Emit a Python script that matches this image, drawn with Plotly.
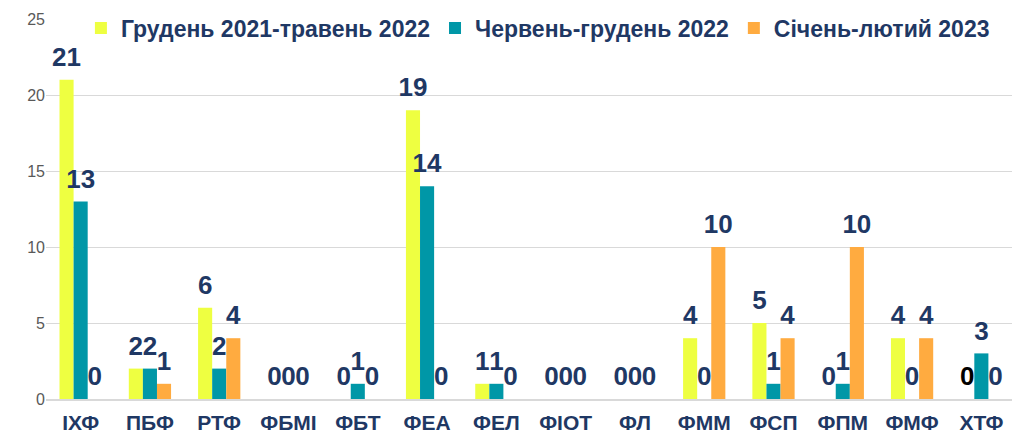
import plotly.graph_objects as go

categories = ["ІХФ", "ПБФ", "РТФ", "ФБМІ", "ФБТ", "ФЕА", "ФЕЛ", "ФІОТ", "ФЛ", "ФММ", "ФСП", "ФПМ", "ФМФ", "ХТФ"]
series_names = ["Грудень 2021-травень 2022", "Червень-грудень 2022", "Січень-лютий 2023"]
s1 = [21, 2, 6, 0, 0, 19, 1, 0, 0, 4, 5, 0, 4, 0]
s2 = [13, 2, 2, 0, 1, 14, 1, 0, 0, 0, 1, 1, 0, 3]
s3 = [0, 1, 4, 0, 0, 0, 0, 0, 0, 10, 4, 10, 4, 0]
colors = ["#EEFF41", "#0097A7", "#FFAB40"]
navy = "#1F3864"
FONT = "Liberation Sans, Arial"
GAP = 0.39

fig = go.Figure()
all_series = [s1, s2, s3]
for i, (name, vals) in enumerate(zip(series_names, all_series)):
    fig.add_trace(go.Bar(
        x=categories, y=vals, name=name,
        marker=dict(color=colors[i], line=dict(width=0)),
        hoverinfo="x+y+name",
    ))
for i, (name, vals) in enumerate(zip(series_names, all_series)):
    tcolors = [navy] * len(vals)
    if i == 0:
        tcolors[-1] = "#000000"
    fig.add_trace(go.Scatter(
        x=categories, y=vals, name=name, mode="markers+text",
        marker=dict(size=10, opacity=0, color=colors[i]),
        text=[str(v) for v in vals], textposition="top center",
        textfont=dict(family=FONT, size=26, color=tcolors, weight="bold"),
        showlegend=False, cliponaxis=False, hoverinfo="skip",
    ))

fig.update_layout(
    width=1020, height=436,
    margin=dict(l=38, r=12, t=11, b=45, autoexpand=False),
    paper_bgcolor="white", plot_bgcolor="white",
    barmode="group", bargap=GAP, bargroupgap=0,
    scattermode="group", scattergap=GAP,
    font=dict(family=FONT),
    legend=dict(orientation="h", x=0.036, y=0.954, xref="paper", yref="container",
                xanchor="left", yanchor="middle",
                font=dict(family=FONT, size=23, color=navy, weight="bold"),
                bgcolor="rgba(0,0,0,0)", itemwidth=30, traceorder="normal"),
)
fig.update_yaxes(range=[0, 25], dtick=5, showgrid=True, gridcolor="#D9D9D9", gridwidth=1,
                 zeroline=False, showline=False,
                 tickfont=dict(family=FONT, size=16, color="#595959"))
fig.update_xaxes(showline=True, linecolor="#D9D9D9", linewidth=2, showgrid=False,
                 ticklabelstandoff=4,
                 tickfont=dict(family=FONT, size=21, color=navy, weight="bold"))

fig.write_html("out.html")
